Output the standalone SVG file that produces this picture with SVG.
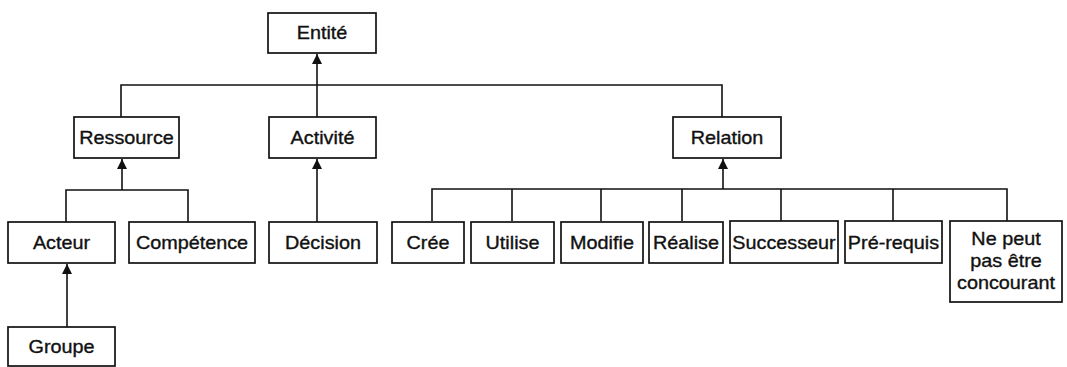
<svg xmlns="http://www.w3.org/2000/svg" width="1067" height="367" viewBox="0 0 1067 367">
<style>
  rect.box { fill: #fff; stroke: #111; stroke-width: 1.7; }
  text { font-family: "Liberation Sans", Arial, sans-serif; font-size: 18px; fill: #111; stroke: #111; stroke-width: 0.35; text-anchor: middle; }
  #connectors path { fill: none; stroke: #111; stroke-width: 1.6; }
</style>
<defs>
  <marker id="arrow" viewBox="0 0 10 10" refX="10" refY="5" markerWidth="10" markerHeight="10" markerUnits="userSpaceOnUse" orient="auto">
    <path d="M0,0 L10,5 L0,10 Z" fill="#111"/>
  </marker>
</defs>
<rect width="1067" height="367" fill="#fff"/>
<g id="connectors">
  <path d="M317,117 L317,54" marker-end="url(#arrow)"/>
  <path d="M121,117 L121,85 L722,85 L722,117"/>
  <path d="M122,190 L122,159" marker-end="url(#arrow)"/>
  <path d="M66,222 L66,190 L188,190 L188,222"/>
  <path d="M317,222 L317,159" marker-end="url(#arrow)"/>
  <path d="M67,327 L67,264" marker-end="url(#arrow)"/>
  <path d="M723,189 L723,159" marker-end="url(#arrow)"/>
  <path d="M432,221 L432,189 L1007,189 L1007,221"/>
  <path d="M512,189 L512,221 M601,189 L601,221 M682,189 L682,221 M781,189 L781,221 M893,189 L893,221"/>
</g>
<g id="entite"><rect class="box" x="268" y="13" width="108" height="40"/><text transform="translate(322,39) scale(1.1,1)">Entité</text></g>
<g id="ressource"><rect class="box" x="74" y="117" width="105" height="41"/><text transform="translate(126.5,144) scale(1.1,1)">Ressource</text></g>
<g id="activite"><rect class="box" x="269" y="117" width="107" height="41"/><text transform="translate(322.5,144) scale(1.1,1)">Activité</text></g>
<g id="relation"><rect class="box" x="673" y="117" width="108" height="41"/><text transform="translate(727,144) scale(1.1,1)">Relation</text></g>
<g id="acteur"><rect class="box" x="8" y="222" width="107" height="41"/><text transform="translate(61.5,249) scale(1.1,1)">Acteur</text></g>
<g id="competence"><rect class="box" x="129" y="222" width="126" height="41"/><text transform="translate(192,249) scale(1.1,1)">Compétence</text></g>
<g id="decision"><rect class="box" x="269" y="222" width="108" height="41"/><text transform="translate(323,249) scale(1.1,1)">Décision</text></g>
<g id="cree"><rect class="box" x="392" y="222" width="72" height="41"/><text transform="translate(428,249) scale(1.1,1)">Crée</text></g>
<g id="utilise"><rect class="box" x="471" y="222" width="83" height="41"/><text transform="translate(512.5,249) scale(1.1,1)">Utilise</text></g>
<g id="modifie"><rect class="box" x="561" y="222" width="82" height="41"/><text transform="translate(602,249) scale(1.1,1)">Modifie</text></g>
<g id="realise"><rect class="box" x="649" y="222" width="74" height="41"/><text transform="translate(686,249) scale(1.1,1)">Réalise</text></g>
<g id="successeur"><rect class="box" x="730" y="221" width="108" height="42"/><text transform="translate(784,249) scale(1.1,1)">Successeur</text></g>
<g id="prerequis"><rect class="box" x="845" y="221" width="97" height="42"/><text transform="translate(893.5,249) scale(1.1,1)">Pré-requis</text></g>
<g id="nepeut"><rect class="box" x="950" y="221" width="112" height="81"/><text transform="translate(1006,245) scale(1.1,1)">Ne peut</text><text transform="translate(1006,267) scale(1.1,1)">pas être</text><text transform="translate(1006,289) scale(1.1,1)">concourant</text></g>
<g id="groupe"><rect class="box" x="8" y="327" width="107" height="39"/><text transform="translate(61.5,353) scale(1.1,1)">Groupe</text></g>
</svg>
